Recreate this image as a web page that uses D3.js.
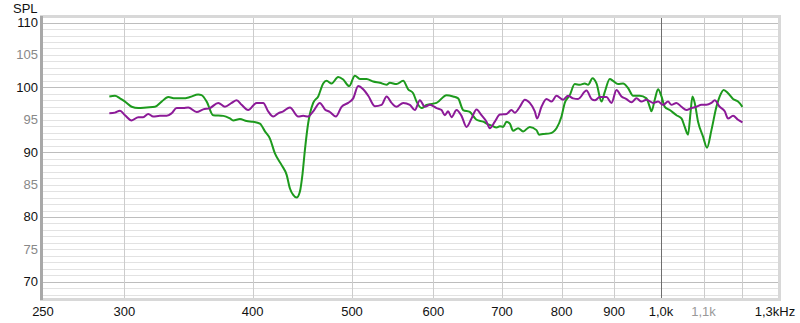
<!DOCTYPE html>
<html>
<head>
<meta charset="utf-8">
<script src="https://cdn.jsdelivr.net/npm/d3@7"></script>
<style>
  body { margin: 0; background: #fff; }
  svg text { font-family: "Liberation Sans", Arial, sans-serif; }
</style>
</head>
<body>
<div id="chart"></div>
<script>
// Frequency response (SPL vs Hz), two measurements
const greenFreq = [290.1, 293.8, 297.1, 300.5, 305.0, 309.6, 315.4, 321.4, 326.2, 331.1, 336.1, 342.4, 347.6, 354.1, 356.8, 360.9, 366.2, 374.6, 380.2, 383.0, 388.8, 394.7, 400.6, 406.7, 411.3, 415.9, 420.6, 427.0, 431.8, 435.0, 438.2, 441.6, 444.8, 447.5, 449.9, 453.2, 458.3, 463.5, 468.7, 472.3, 477.6, 484.7, 490.2, 496.8, 503.2, 508.9, 516.6, 524.3, 532.2, 540.3, 544.3, 552.5, 560.8, 567.1, 573.5, 577.9, 584.4, 591.0, 604.4, 618.1, 627.3, 634.4, 641.5, 651.2, 661.1, 671.0, 678.5, 683.7, 691.4, 696.6, 701.7, 707.1, 712.4, 717.6, 725.7, 733.9, 745.0, 756.3, 760.7, 767.6, 779.2, 791.0, 799.9, 805.8, 814.9, 824.1, 833.4, 842.8, 849.1, 857.5, 865.2, 875.0, 881.5, 891.4, 898.0, 908.1, 918.4, 928.7, 939.2, 953.4, 967.8, 975.0, 978.8, 986.0, 993.4, 1001.0, 1008.4, 1019.8, 1035.2, 1046.9, 1054.6, 1062.5, 1068.2, 1073.0, 1078.5, 1086.6, 1098.8, 1108.7, 1119.7, 1132.3, 1140.7, 1151.0, 1162.2, 1175.3, 1188.5, 1200.3];
const greenSpl = [98.6, 98.7, 98.3, 97.8, 97.0, 96.8, 96.9, 97.0, 97.8, 98.5, 98.3, 98.3, 98.5, 98.9, 98.8, 97.8, 95.7, 95.6, 95.2, 94.9, 95.1, 94.8, 94.7, 94.4, 93.2, 92.1, 89.8, 88.0, 86.5, 84.4, 83.4, 83.0, 83.9, 86.7, 90.4, 94.5, 97.6, 98.6, 100.6, 101.0, 100.6, 101.6, 101.2, 100.2, 101.8, 101.3, 101.3, 100.9, 100.7, 100.4, 100.7, 100.5, 101.0, 99.7, 99.1, 97.8, 96.8, 97.3, 97.6, 98.8, 98.6, 98.3, 96.5, 96.2, 95.0, 94.7, 94.3, 94.1, 93.8, 94.0, 93.9, 94.7, 94.4, 93.3, 93.7, 93.2, 93.9, 93.4, 92.7, 92.8, 92.9, 93.7, 95.5, 97.6, 98.8, 100.5, 100.4, 100.6, 100.4, 101.4, 100.6, 97.8, 99.3, 101.3, 101.0, 100.5, 100.6, 99.9, 98.7, 98.7, 98.3, 97.0, 96.3, 98.1, 99.7, 98.6, 97.0, 96.5, 95.7, 95.2, 93.9, 92.7, 96.0, 98.6, 97.6, 94.7, 92.4, 90.7, 93.4, 97.0, 98.6, 99.6, 99.1, 98.2, 97.8, 97.0];

const purpleFreq = [290.1, 293.8, 297.1, 300.5, 305.0, 309.6, 313.0, 316.6, 320.1, 325.0, 329.9, 333.6, 337.4, 342.4, 346.3, 352.9, 358.1, 363.5, 370.4, 376.0, 381.7, 386.0, 390.3, 396.1, 403.7, 409.7, 414.3, 419.0, 423.7, 428.5, 435.0, 443.1, 448.1, 453.2, 458.3, 465.2, 470.5, 475.8, 482.2, 488.4, 495.7, 501.3, 507.0, 512.7, 518.5, 526.3, 534.3, 540.3, 546.4, 552.5, 560.8, 569.3, 575.7, 582.2, 588.7, 595.4, 604.4, 611.2, 615.7, 620.3, 625.1, 632.1, 639.2, 646.4, 653.7, 661.1, 668.5, 676.1, 681.1, 688.8, 696.6, 707.1, 715.0, 720.4, 728.5, 736.7, 745.0, 753.4, 757.3, 764.8, 773.4, 782.2, 791.0, 802.8, 811.8, 821.0, 830.2, 846.0, 855.6, 861.9, 871.6, 884.8, 894.8, 904.9, 915.1, 925.4, 935.8, 946.4, 957.1, 967.8, 982.3, 993.4, 1004.6, 1015.9, 1023.6, 1035.2, 1046.9, 1058.7, 1070.6, 1082.7, 1094.9, 1107.2, 1119.7, 1128.0, 1140.7, 1153.6, 1162.2, 1175.3, 1188.5, 1200.3];
const purpleSpl = [96.0, 96.1, 96.4, 95.7, 94.9, 95.4, 95.4, 95.9, 95.5, 95.6, 95.6, 96.0, 96.8, 96.8, 96.9, 96.2, 96.6, 96.8, 97.6, 97.0, 97.6, 98.0, 97.3, 96.5, 97.6, 97.6, 96.3, 95.5, 96.0, 96.3, 96.9, 95.5, 95.6, 95.5, 96.3, 97.6, 96.6, 96.2, 95.5, 97.0, 97.6, 98.3, 100.2, 99.7, 98.7, 97.1, 97.3, 98.6, 97.6, 97.0, 97.6, 97.3, 96.5, 98.0, 97.0, 97.3, 96.8, 96.5, 95.7, 96.3, 95.4, 96.5, 95.6, 93.9, 95.2, 96.6, 95.7, 94.7, 93.7, 94.7, 95.8, 95.9, 96.5, 96.1, 97.0, 98.1, 97.6, 96.3, 95.2, 97.0, 98.2, 97.8, 98.7, 98.1, 98.7, 98.3, 98.2, 99.5, 98.2, 98.0, 98.5, 98.5, 97.6, 99.6, 98.6, 98.2, 97.7, 98.3, 97.8, 98.1, 97.6, 97.8, 97.3, 97.8, 97.3, 97.6, 97.0, 96.5, 96.8, 97.0, 97.3, 97.3, 97.6, 98.0, 97.0, 96.3, 95.2, 95.6, 95.0, 94.6];

const xTicks = [250, 300, 400, 500, 600, 700, 800, 900, 1000, 1100, 1300];
const xTickLabels = ['250', '300', '400', '500', '600', '700', '800', '900', '1,0k', '1,1k', '1,3kHz'];
const xGrid = [300, 400, 500, 600, 700, 800, 900, 1000, 1100, 1200];
const yTicks = [70, 75, 80, 85, 90, 95, 100, 105, 110];

const width = 800, height = 323;
const plot = { left: 43, right: 778, top: 18, bottom: 298 };

const svg = d3.select('#chart').append('svg')
    .attr('width', width)
    .attr('height', height);

const x = d3.scaleLog().domain([250, 1300]).range([plot.left, plot.right]);
const y = d3.scaleLinear().domain([67.5, 110.7]).range([plot.bottom, plot.top]);

// frame with a soft shadow
svg.append('rect')
    .attr('x', plot.left - 3).attr('y', plot.top - 3)
    .attr('width', plot.right - plot.left + 6).attr('height', plot.bottom - plot.top + 6)
    .attr('fill', '#d8d8d8');
svg.append('rect')
    .attr('x', plot.left - 3).attr('y', plot.top - 2)
    .attr('width', 3).attr('height', plot.bottom - plot.top + 4)
    .attr('fill', '#a8a8a8');
svg.append('rect')
    .attr('x', plot.left).attr('y', plot.top)
    .attr('width', plot.right - plot.left).attr('height', plot.bottom - plot.top)
    .attr('fill', '#fff');

const grid = svg.append('g');

// horizontal lines every 1 dB
d3.range(68, 111).forEach(v => {
    grid.append('line')
        .attr('x1', plot.left).attr('x2', plot.right)
        .attr('y1', Math.round(y(v)) + 0.5).attr('y2', Math.round(y(v)) + 0.5)
        .attr('stroke', v % 10 === 0 ? '#bdbdbd' : '#e2e2e2')
        .attr('stroke-width', 1);
});

xGrid.forEach(f => {
    grid.append('line')
        .attr('x1', Math.round(x(f)) + 0.5).attr('x2', Math.round(x(f)) + 0.5)
        .attr('y1', plot.top).attr('y2', plot.bottom)
        .attr('stroke', f === 1000 ? '#6e6e6e' : '#cccccc')
        .attr('stroke-width', 1);
});

// curves
const line = d3.line()
    .x(d => x(d[0]))
    .y(d => y(d[1]))
    .curve(d3.curveMonotoneX);

svg.append('path')
    .datum(greenFreq.map((f, i) => [f, greenSpl[i]]))
    .attr('d', line)
    .attr('fill', 'none')
    .attr('stroke', '#1d9a1d')
    .attr('stroke-width', 2);

svg.append('path')
    .datum(purpleFreq.map((f, i) => [f, purpleSpl[i]]))
    .attr('d', line)
    .attr('fill', 'none')
    .attr('stroke', '#8c1a98')
    .attr('stroke-width', 2);

// y labels
svg.selectAll('.ylab')
    .data(yTicks)
    .enter().append('text')
    .attr('class', 'ylab')
    .attr('x', 38)
    .attr('y', d => y(d) + 4.5)
    .attr('text-anchor', 'end')
    .style('font-size', '13px')
    .style('fill', d => d % 10 === 0 ? '#111' : '#888')
    .text(d => d);

svg.append('text')
    .attr('x', 13).attr('y', 13)
    .style('font-size', '13px')
    .style('fill', '#111')
    .text('SPL');

// x labels
svg.selectAll('.xlab')
    .data(xTicks)
    .enter().append('text')
    .attr('class', 'xlab')
    .attr('x', d => d === 1300 ? x(d) - 3 : x(d))
    .attr('y', 316)
    .attr('text-anchor', 'middle')
    .style('font-size', '13px')
    .style('fill', d => d === 1100 ? '#999' : '#111')
    .text((d, i) => xTickLabels[i]);
</script>
</body>
</html>
